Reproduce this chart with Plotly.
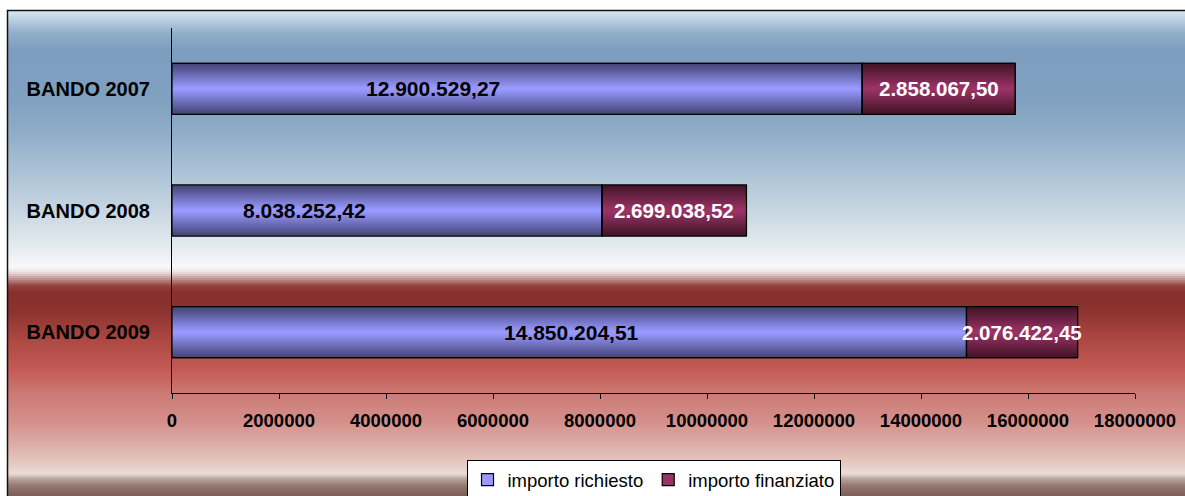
import numpy as np
import plotly.graph_objects as go

# ---- data ----
categories = ["BANDO 2007", "BANDO 2008", "BANDO 2009"]
importo_richiesto = [12900529.27, 8038252.42, 14850204.51]
importo_finanziato = [2858067.50, 2699038.52, 2076422.45]
x_tick_values = [0, 2000000, 4000000, 6000000, 8000000, 10000000,
                 12000000, 14000000, 16000000, 18000000]

# ---- styling ----
FONT = "Liberation Sans"
W, H = 1185, 496
M_L, M_R, M_T, M_B = 172, 50, 28, 103
PW, PH = W - M_L - M_R, H - M_T - M_B
BAND_PX = PH / len(categories)
BAR_PX = 51
# where each "richiesto" value label sits, as a fraction of its bar
label_frac = [0.378, 0.309, 0.503]

series_style = [
    dict(name="importo richiesto", center="#9999ff", edge="#444476"),
    dict(name="importo finanziato", center="#993366", edge="#421426"),
]

# vertical background gradient of the chart frame (pixel row, colour)
bg_stops = [
    (10, "#dde9f1"), (22, "#b2cadd"), (34, "#8fadc8"), (50, "#7d9ebf"),
    (100, "#7fa0bf"), (135, "#91aec8"), (168, "#a9c1d5"), (200, "#bfd0de"),
    (233, "#d9e3ea"), (258, "#eff2f5"), (267, "#f8f8fa"), (272, "#ede2e2"),
    (279, "#c09292"), (286, "#933f3a"), (293, "#86302c"), (310, "#8a322e"),
    (340, "#ad4843"), (368, "#c35954"), (395, "#cd7b76"), (420, "#d48e89"),
    (445, "#dcaea9"), (462, "#e4c7c0"), (474, "#ebdcd6"), (479, "#b8a29a"),
    (486, "#93776f"), (496, "#7b5c55"),
]


def hex_rgb(h):
    h = h.lstrip("#")
    return np.array([int(h[i:i + 2], 16) for i in (0, 2, 4)], dtype=float)


def rgb_str(c):
    c = np.clip(np.round(c), 0, 255).astype(int)
    return f"rgb({c[0]},{c[1]},{c[2]})"


def py_to_paper(y):
    return (H - M_B - y) / PH


def px_to_paper(x):
    return (x - M_L) / PW


def fmt_it(v):
    s = f"{v:,.2f}"
    return s.replace(",", "#").replace(".", ",").replace("#", ".")


shapes = []
ys = np.array([s[0] for s in bg_stops], dtype=float)
cs = np.array([hex_rgb(s[1]) for s in bg_stops])
step = 2
for y in range(10, H, step):
    yc = y + step / 2
    col = np.array([np.interp(yc, ys, cs[:, k]) for k in range(3)])
    shapes.append(dict(
        type="rect", xref="paper", yref="paper", layer="below",
        x0=px_to_paper(7), x1=px_to_paper(W + 5),
        y0=py_to_paper(min(y + step + 0.6, H + 2)), y1=py_to_paper(y),
        fillcolor=rgb_str(col), line=dict(width=0),
    ))
# frame border (top and left edges)
shapes.append(dict(
    type="path", xref="paper", yref="paper", layer="below",
    path=(f"M {px_to_paper(W + 5)},{py_to_paper(10.5)} "
          f"L {px_to_paper(7.5)},{py_to_paper(10.5)} "
          f"L {px_to_paper(7.5)},{py_to_paper(H + 5)}"),
    line=dict(color="#111111", width=1.5),
))

fig = go.Figure()

bases = [[0, 0, 0], importo_richiesto]
values = [importo_richiesto, importo_finanziato]
n_steps = 24
for sty, base, vals in zip(series_style, bases, values):
    full_w = BAR_PX / BAND_PX
    # legend entry (flat colour with outline)
    fig.add_trace(go.Bar(
        y=categories, x=vals, base=base, orientation="h", width=full_w,
        name=sty["name"], marker=dict(color=sty["center"],
                                      line=dict(color="#000000", width=1.2)),
        hoverinfo="skip",
    ))
    # cylindrical shading: nested bars from dark edge to light centre
    e, c = hex_rgb(sty["edge"]), hex_rgb(sty["center"])
    for k in range(n_steps + 1):
        t = k / n_steps
        col = e + (c - e) * t
        fig.add_trace(go.Bar(
            y=categories, x=vals, base=base, orientation="h",
            width=(BAR_PX - 2 * k) / BAND_PX, showlegend=False,
            marker=dict(color=rgb_str(col), line=dict(width=0)),
            hoverinfo="skip",
        ))

# outline drawn on top of the shading
for base, vals in zip(bases, values):
    fig.add_trace(go.Bar(
        y=categories, x=vals, base=base, orientation="h",
        width=BAR_PX / BAND_PX, showlegend=False,
        marker=dict(color="rgba(0,0,0,0)", line=dict(color="#000000", width=1.2)),
        hoverinfo="skip",
    ))

annotations = []
for cat, r, f, fr in zip(categories, importo_richiesto, importo_finanziato, label_frac):
    annotations.append(dict(
        x=r * fr, y=cat, xref="x", yref="y", text=fmt_it(r), showarrow=False,
        font=dict(family=FONT, size=21, color="#000000", weight="bold"),
    ))
    annotations.append(dict(
        x=r + f / 2, y=cat, xref="x", yref="y", text=fmt_it(f), showarrow=False,
        font=dict(family=FONT, size=20.5, color="#ffffff", weight="bold"),
    ))

fig.update_layout(
    width=W, height=H, autosize=False,
    margin=dict(l=M_L, r=M_R, t=M_T, b=M_B, pad=0, autoexpand=False),
    barmode="overlay",
    paper_bgcolor="#ffffff",
    plot_bgcolor="rgba(0,0,0,0)",
    shapes=shapes,
    annotations=annotations,
    font=dict(family=FONT, color="#000000"),
    xaxis=dict(
        range=[0, 18000000], tickvals=x_tick_values, tickformat="d",
        showgrid=False, zeroline=False, showline=True, linecolor="#000000",
        linewidth=1, ticks="outside", ticklen=5, tickcolor="#000000",
        tickfont=dict(family=FONT, size=18.5, weight="bold"),
        ticklabelstandoff=6, automargin=False,
    ),
    yaxis=dict(
        categoryorder="array", categoryarray=categories, autorange="reversed",
        showgrid=False, zeroline=False, showline=True, linecolor="#000000",
        linewidth=1, ticks="", ticklabelstandoff=17, automargin=False,
        tickfont=dict(family=FONT, size=20, weight="bold"),
    ),
    legend=dict(
        orientation="h", x=0.5, xanchor="center",
        yref="container", y=(H - 460) / H, yanchor="top",
        bgcolor="#ffffff", bordercolor="#000000", borderwidth=1,
        font=dict(family=FONT, size=18.5, color="#000000"),
        traceorder="normal", itemwidth=30,
    ),
)

fig.write_html("out.html")
